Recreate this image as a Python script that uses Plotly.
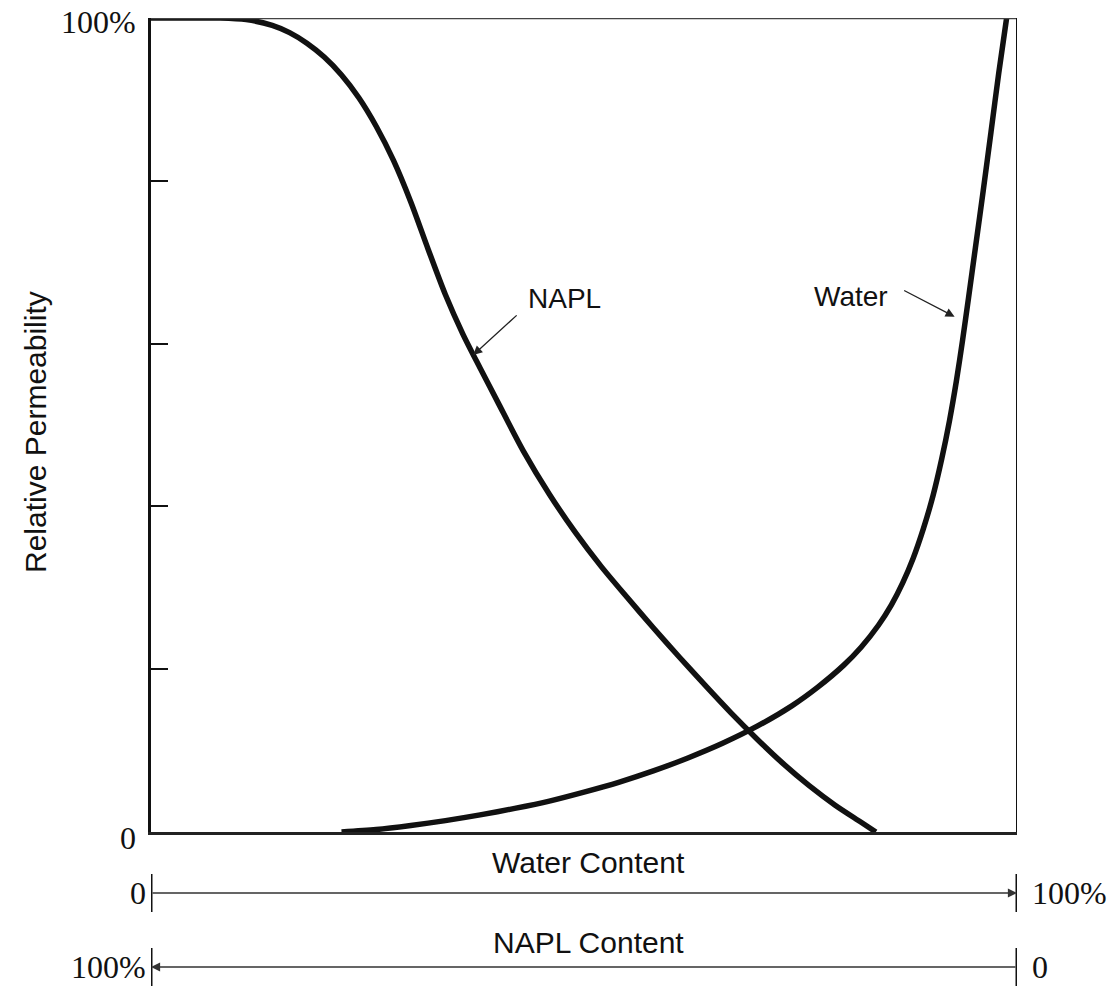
import plotly.graph_objects as go

# Water content (%) vs relative permeability (%)
napl_x = [0, 5, 8, 11, 14, 16, 18, 20, 22, 24, 26, 28, 30, 32, 34, 36, 38, 40,
          43, 46, 49, 52, 55, 58, 61, 64, 67, 70, 73, 76, 79, 82, 83.7]
napl_y = [100, 100, 100, 99.8, 99.1, 98.2, 96.9, 95.2, 93.0, 90.2, 86.7, 82.5, 77.4, 71.6,
          66.0, 61.2, 57.0, 52.9, 46.8, 41.5, 36.8, 32.6, 28.8, 25.1, 21.5, 18.0, 14.6,
          11.4, 8.4, 5.7, 3.3, 1.2, 0]

water_x = [22, 26, 30, 34, 38, 42, 46, 50, 54, 58, 62, 66, 70, 74, 77, 80, 82, 84,
           85.5, 86.8, 88.0, 89.2, 90.3, 91.3, 92.2, 93.0, 93.7, 94.4, 95.2, 96.1, 97.0,
           97.9, 98.8]
water_y = [0, 0.3, 0.8, 1.4, 2.1, 2.9, 3.8, 4.9, 6.1, 7.5, 9.1, 10.9, 13.0, 15.5, 17.8,
           20.5, 22.7, 25.4, 27.9, 30.6, 33.6, 37.3, 41.3, 45.8, 50.5, 55.4, 60.3, 65.6,
           71.8, 78.8, 86.0, 93.3, 100]

y_tickvals = [0, 20, 40, 60, 80, 100]
y_ticklabels = {0: "0", 100: "100%"}

SANS = "Liberation Sans, Arial, sans-serif"
SERIF = "Liberation Serif, Times New Roman, serif"
INK = "#111111"

W, H = 1120, 987
PL, PR, PT, PB = 151, 1017, 18, 832  # plot area in window pixels
ml, mt, mr, mb = PL, PT, W - PR, H - PB
pw, ph = PR - PL, PB - PT


def px2paper(px):
    return (px - PL) / pw


def py2paper(py):
    return (PB - py) / ph


fig = go.Figure()
fig.add_trace(go.Scatter(x=napl_x, y=napl_y, mode="lines",
                         line=dict(color=INK, width=5.5, shape="spline", smoothing=0.8),
                         name="NAPL", showlegend=False, hoverinfo="skip"))
fig.add_trace(go.Scatter(x=water_x, y=water_y, mode="lines",
                         line=dict(color=INK, width=5.5, shape="spline", smoothing=0.8),
                         name="Water", showlegend=False, hoverinfo="skip"))

fig.update_layout(
    width=W, height=H,
    margin=dict(l=ml, r=mr, t=mt, b=mb, autoexpand=False),
    paper_bgcolor="white", plot_bgcolor="white",
    xaxis=dict(range=[0, 100], showgrid=False, zeroline=False, showticklabels=False,
               ticks="", showline=True, linecolor="#222", linewidth=2.5, fixedrange=True),
    yaxis=dict(range=[0, 100], showgrid=False, zeroline=False, showline=True,
               linecolor=INK, linewidth=3, ticks="inside", ticklen=17, tickwidth=2,
               tickcolor=INK, tickvals=y_tickvals, showticklabels=False, fixedrange=True),
)

# top and right frame
fig.add_shape(type="line", xref="x", yref="y", x0=0, x1=100, y0=100, y1=100,
              line=dict(color="#444", width=2.5))
fig.add_shape(type="line", xref="x", yref="y", x0=100, x1=100, y0=0, y1=100,
              line=dict(color=INK, width=2))

ann = []
# y tick labels
for v, t in y_ticklabels.items():
    ann.append(dict(text=t, xref="paper", yref="y", x=px2paper(138), y=v,
                    xanchor="right", yanchor="middle", showarrow=False,
                    yshift=-6 if v == 0 else -4,
                    font=dict(family=SERIF, size=32, color=INK)))
# y title
ann.append(dict(text="Relative Permeability", xref="paper", yref="paper",
                x=px2paper(36), y=py2paper(432), textangle=-90,
                showarrow=False, xanchor="center", yanchor="middle",
                font=dict(family=SANS, size=30, color=INK)))
# curve labels
ann.append(dict(text="NAPL", xref="x", yref="y", x=47.8, y=65.5, showarrow=False,
                font=dict(family=SANS, size=28, color=INK)))
ann.append(dict(text="", xref="x", yref="y", x=37.2, y=58.6, ax=45, ay=-41, showarrow=True,
                arrowhead=2, arrowsize=1.4, arrowwidth=1.3, arrowcolor="#222", standoff=0))
ann.append(dict(text="Water", xref="x", yref="y", x=80.8, y=65.8, showarrow=False,
                font=dict(family=SANS, size=28, color=INK)))
ann.append(dict(text="", xref="x", yref="y", x=92.8, y=63.3, ax=-52, ay=-27, showarrow=True,
                arrowhead=2, arrowsize=1.4, arrowwidth=1.3, arrowcolor="#222", standoff=0))

# scale bars below
water_line_y = py2paper(893)
napl_line_y = py2paper(967)
ann.append(dict(text="Water Content", xref="x", yref="paper", x=50.5, y=py2paper(862),
                showarrow=False, yanchor="middle", font=dict(family=SANS, size=30, color=INK)))
ann.append(dict(text="NAPL Content", xref="x", yref="paper", x=50.5, y=py2paper(943),
                showarrow=False, yanchor="middle", font=dict(family=SANS, size=30, color=INK)))
ann.append(dict(text="", xref="x", yref="paper", x=100, y=water_line_y, axref="x", ax=0, ay=0,
                showarrow=True, arrowhead=2, arrowsize=1.3, arrowwidth=1.4, arrowcolor="#333", standoff=0))
ann.append(dict(text="", xref="x", yref="paper", x=0, y=napl_line_y, axref="x", ax=100, ay=0,
                showarrow=True, arrowhead=2, arrowsize=1.3, arrowwidth=1.4, arrowcolor="#333", standoff=0))
for yy in (water_line_y, napl_line_y):
    for xx in (0, 100):
        fig.add_shape(type="line", xref="x", yref="paper", x0=xx, x1=xx,
                      y0=yy - 19 / ph, y1=yy + 19 / ph, line=dict(color=INK, width=3))
ann.append(dict(text="0", xref="paper", yref="paper", x=px2paper(148), y=water_line_y,
                xanchor="right", yanchor="middle", showarrow=False,
                font=dict(family=SERIF, size=32, color=INK)))
ann.append(dict(text="100%", xref="paper", yref="paper", x=px2paper(1030), y=water_line_y,
                xanchor="left", yanchor="middle", showarrow=False,
                font=dict(family=SERIF, size=32, color=INK)))
ann.append(dict(text="100%", xref="paper", yref="paper", x=px2paper(148), y=napl_line_y,
                xanchor="right", yanchor="middle", showarrow=False,
                font=dict(family=SERIF, size=32, color=INK)))
ann.append(dict(text="0", xref="paper", yref="paper", x=px2paper(1030), y=napl_line_y,
                xanchor="left", yanchor="middle", showarrow=False,
                font=dict(family=SERIF, size=32, color=INK)))

fig.update_layout(annotations=ann)
fig.write_html("out.html", config={"displayModeBar": False},
               post_script="document.body.style.margin='0';document.body.style.overflow='hidden';")
